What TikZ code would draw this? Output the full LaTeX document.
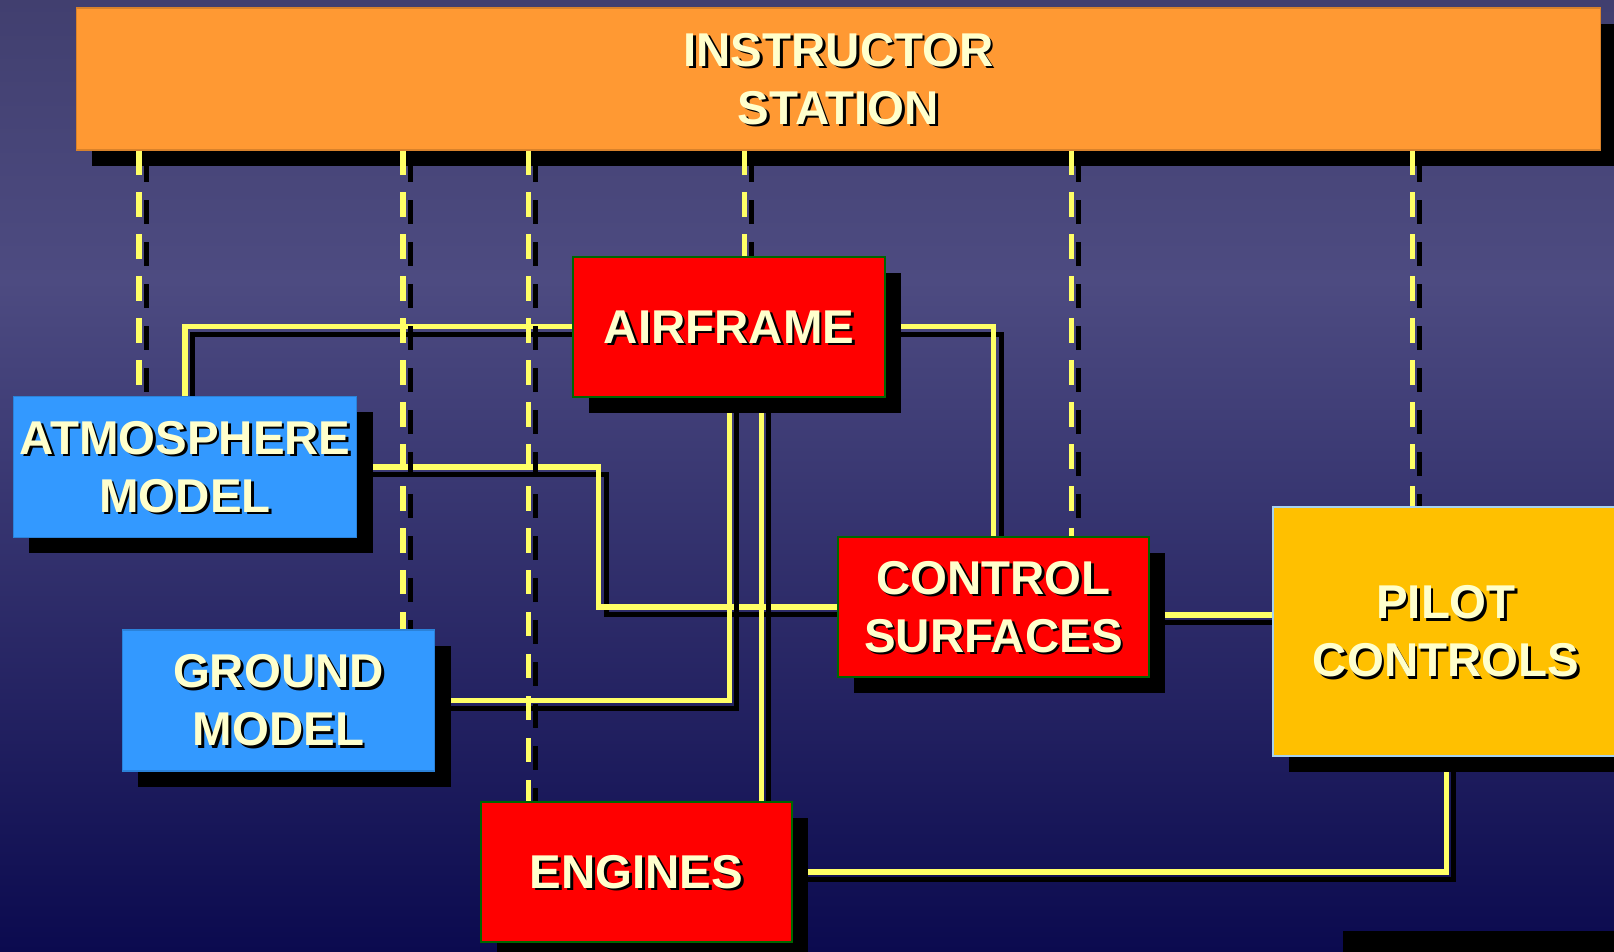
\documentclass[tikz,border=0pt]{standalone}
\usepackage{fontspec}
\setmainfont{Liberation Sans}
\usepackage{tikz}
\usetikzlibrary{calc,shadows}
\definecolor{bgtop}{HTML}{413F6F}
\definecolor{bgmid}{HTML}{4D4B81}
\definecolor{bgbot}{HTML}{0B0A4F}
\definecolor{station}{HTML}{FF9933}
\definecolor{module}{HTML}{FF0000}
\definecolor{modedge}{HTML}{006600}
\definecolor{model}{HTML}{3399FF}
\definecolor{pilot}{HTML}{FFC000}
\definecolor{pilotedge}{HTML}{A6D2F0}
\definecolor{wirecol}{HTML}{FFFF66}
\definecolor{caption}{HTML}{FFFFCC}

% caption with a small black drop shadow
\newcommand{\boxcaption}[2]{%
  \node[captionshade] at ([shift={(1.5pt,-1.5pt)}]#1.center) {#2};
  \node[captiontext] at (#1.center) {#2};}

\begin{document}
\begin{tikzpicture}[
  x=0.02cm, y=-0.02cm,
  every node/.style={font=\fontsize{27}{33}\selectfont\bfseries, inner sep=0pt},
  boxshadow/.style={drop shadow={shadow xshift=9pt, shadow yshift=-9pt, fill=black, opacity=1}},
  stationbox/.style={fill=station, draw=station!85!black, line width=0.6pt,
    minimum width=30.5cm, minimum height=2.84cm, boxshadow},
  modulebox/.style={fill=module, draw=modedge, line width=1.3pt,
    minimum width=6.24cm, minimum height=2.8cm, boxshadow},
  modelbox/.style={fill=model, draw=model!85!black, line width=0.6pt,
    minimum height=2.82cm, boxshadow},
  pilotbox/.style={fill=pilot, draw=pilotedge, line width=1.3pt,
    minimum width=6.92cm, minimum height=4.98cm, boxshadow},
  captiontext/.style={text=caption, align=center},
  captionshade/.style={text=black, align=center},
  wire/.style={draw=wirecol, line width=2.85pt, line join=miter,
    preaction={draw=black, line width=2.85pt, line join=miter,
      transform canvas={shift={(4.5pt,-4.5pt)}}}},
  dashwire/.style={draw=wirecol, line width=2.85pt, dash pattern=on 13.7pt off 10.2pt,
    preaction={draw=black, line width=2.85pt, dash pattern=on 13.7pt off 10.2pt,
      transform canvas={shift={(4.5pt,-4.5pt)}}}}
]
\useasboundingbox (0,0) rectangle (1614,952);

% Background
\shade[top color=bgtop, bottom color=bgmid] (0,0) rectangle (1614,281);
\shade[top color=bgmid, bottom color=bgbot] (0,280) rectangle (1614,952);

% Station
\node[stationbox] (inst) at (838.5,79) {};
\boxcaption{inst}{INSTRUCTOR\\STATION}

% Anchor points of the solid links
\node[minimum width=6.24cm, minimum height=2.8cm] (air) at (729,327) {};
\node[minimum width=6.88cm, minimum height=2.84cm] (atm) at (185,467) {};
\node[minimum width=6.26cm, minimum height=2.82cm] (gnd) at (278.5,700.5) {};
\node[minimum width=6.22cm, minimum height=2.8cm] (ctl) at (993.5,607) {};
\node[minimum width=6.92cm, minimum height=4.98cm] (pil) at (1446,631.5) {};
\node[minimum width=6.22cm, minimum height=2.8cm] (eng) at (636.5,872) {};
\coordinate (aireng) at ($(air.south)+(32,0)$);
\coordinate (ctlpil) at ($(ctl.east)+(0,8)$);

% Solid links
\draw[wire] (atm.north) |- (air.west);
\draw[wire] (atm.east) -- ++(241,0) |- (ctl.west);
\draw[wire] (gnd.east) -| (air.south);
\draw[wire] (aireng) -- (aireng |- eng.north);
\draw[wire] (air.east) -| (ctl.north);
\draw[wire] (ctlpil) -- (ctlpil -| pil.west);
\draw[wire] (eng.east) -| (pil.south);

% Links to the instructor station
\foreach \x/\n in {139/atm, 403/gnd, 528/eng, 744/air, 1071/ctl, 1412/pil}
  \draw[dashwire] (\x,0 |- inst.south) -- (\x,0 |- \n.north);

% Blocks
\node[modulebox] at (air) {};
\boxcaption{air}{AIRFRAME}
\node[modelbox, minimum width=6.88cm] at (atm) {};
\boxcaption{atm}{ATMOSPHERE\\MODEL}
\node[modelbox, minimum width=6.26cm] at (gnd) {};
\boxcaption{gnd}{GROUND\\MODEL}
\node[modulebox, minimum width=6.22cm] at (ctl) {};
\boxcaption{ctl}{CONTROL\\SURFACES}
\node[pilotbox] at (pil) {};
\boxcaption{pil}{PILOT\\CONTROLS}
\node[modulebox, minimum width=6.22cm] at (eng) {};
\boxcaption{eng}{ENGINES}

% Corner strip
\node[fill=black, anchor=north west, minimum width=5.6cm, minimum height=0.6cm] (logo) at (1343,931) {};

\end{tikzpicture}
\end{document}
